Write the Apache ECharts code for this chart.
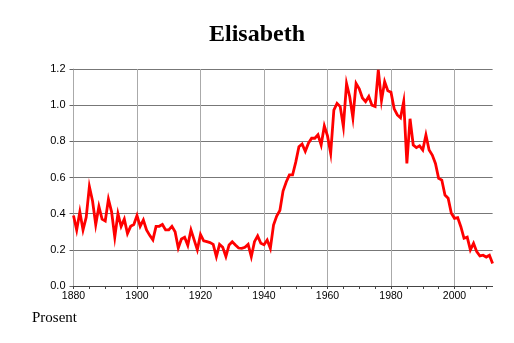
<!DOCTYPE html>
<html><head><meta charset="utf-8">
<script src="https://cdn.jsdelivr.net/npm/echarts@6/dist/echarts.min.js"></script>
<style>html,body{margin:0;padding:0;background:#fff}#c{width:514px;height:343px}</style>
</head><body><div id="c"></div>
<script>
const titleText = 'Elisabeth';
const yAxisTitle = 'Prosent';
const startYear = 1880;
const endYear = 2012;
const xTickLabels = [1880, 1900, 1920, 1940, 1960, 1980, 2000];
const yTickLabels = ['0.0', '0.2', '0.4', '0.6', '0.8', '1.0', '1.2'];
const values = [
  0.39, 0.31, 0.41, 0.31, 0.38, 0.55, 0.47, 0.34, 0.44, 0.37,   // 1880-1889
  0.36, 0.48, 0.41, 0.27, 0.40, 0.33, 0.37, 0.29, 0.33, 0.34,   // 1890-1899
  0.39, 0.33, 0.365, 0.31, 0.28, 0.255, 0.33, 0.33, 0.34, 0.31, // 1900-1909
  0.31, 0.33, 0.30, 0.21, 0.26, 0.27, 0.225, 0.31, 0.255, 0.20, // 1910-1919
  0.285, 0.25, 0.245, 0.24, 0.23, 0.162, 0.23, 0.214, 0.163, 0.227, // 1920-1929
  0.245, 0.227, 0.21, 0.208, 0.214, 0.23, 0.162, 0.245, 0.277, 0.236, // 1930-1939
  0.228, 0.254, 0.208, 0.337, 0.387, 0.418, 0.525, 0.575, 0.614, 0.614, // 1940-1949
  0.685, 0.77, 0.785, 0.745, 0.79, 0.817, 0.817, 0.836, 0.78, 0.885, // 1950-1959
  0.83, 0.734, 0.973, 1.01, 0.992, 0.881, 1.12, 1.047, 0.93, 1.12,  // 1960-1969
  1.09, 1.04, 1.02, 1.048, 1.0, 0.993, 1.195, 1.025, 1.13, 1.08,    // 1970-1979
  1.072, 0.98, 0.946, 0.93, 1.02, 0.678, 0.925, 0.78, 0.765, 0.775, // 1980-1989
  0.752, 0.835, 0.752, 0.724, 0.678, 0.596, 0.586, 0.503, 0.485, 0.402, // 1990-1999
  0.374, 0.378, 0.328, 0.264, 0.27, 0.2, 0.236, 0.19, 0.166, 0.17,  // 2000-2009
  0.16, 0.17, 0.125                                                 // 2010-2012
];
const years = values.map((v, i) => startYear + i);
const seriesData = years.map((y, i) => [y, values[i]]);
const minorTickYears = [];
for (let y = startYear; y <= 2010; y += 5) minorTickYears.push(y);

const gridLeft = 73.5, gridTop = 69, gridBottom = 57;
const pxPerYear = 3.175;
const gridWidth = (endYear - startYear) * pxPerYear;
const tickGridWidth = (minorTickYears[minorTickYears.length - 1] - startYear) * pxPerYear;

const chart = echarts.init(document.getElementById('c'), null, {renderer: 'canvas'});
chart.setOption({
  backgroundColor: '#fff',
  animation: false,
  title: {
    text: titleText, left: 'center', top: 18,
    textStyle: {fontFamily: 'Liberation Serif', fontWeight: 'bold', fontSize: 24, color: '#000'}
  },
  graphic: [{
    type: 'text', left: 32, top: 311,
    style: {text: yAxisTitle, font: '15px "Liberation Serif"', fill: '#000'}
  }],
  grid: [
    {left: gridLeft, top: gridTop, bottom: gridBottom, width: gridWidth},
    {left: gridLeft, top: gridTop, bottom: gridBottom, width: tickGridWidth}
  ],
  xAxis: [{
    type: 'value', gridIndex: 0, min: startYear, max: endYear, interval: 20,
    axisLine: {show: true, lineStyle: {color: '#444', width: 1}},
    axisTick: {show: false},
    axisLabel: {
      margin: 5, fontFamily: 'Liberation Sans', fontSize: 10.5, color: '#000',
      showMaxLabel: false,
      formatter: v => (xTickLabels.indexOf(v) >= 0 ? String(v) : '')
    },
    splitLine: {show: true, showMaxLine: false, lineStyle: {color: '#aaa', width: 1}}
  }, {
    type: 'value', gridIndex: 1, min: startYear, max: minorTickYears[minorTickYears.length - 1], interval: 5,
    axisLine: {show: false},
    axisTick: {show: true, length: 3, lineStyle: {color: '#444'}},
    axisLabel: {show: false},
    splitLine: {show: false}
  }],
  yAxis: [{
    type: 'value', gridIndex: 0, min: 0, max: 1.2, interval: 0.2,
    axisLine: {show: true, lineStyle: {color: '#aaa'}},
    axisTick: {show: true, length: 4, lineStyle: {color: '#666'}},
    axisLabel: {
      margin: 8, fontFamily: 'Liberation Sans', fontSize: 11, color: '#000',
      formatter: v => yTickLabels[Math.round(v / 0.2)]
    },
    splitLine: {show: true, lineStyle: {color: '#777', width: 1}}
  }, {
    type: 'value', gridIndex: 1, min: 0, max: 1.2, show: false
  }],
  series: [{
    type: 'line', xAxisIndex: 0, yAxisIndex: 0, data: seriesData,
    showSymbol: false, symbol: 'none',
    lineStyle: {color: '#ff0000', width: 2.8, join: 'miter'},
    z: 5
  }]
});
</script></body></html>
